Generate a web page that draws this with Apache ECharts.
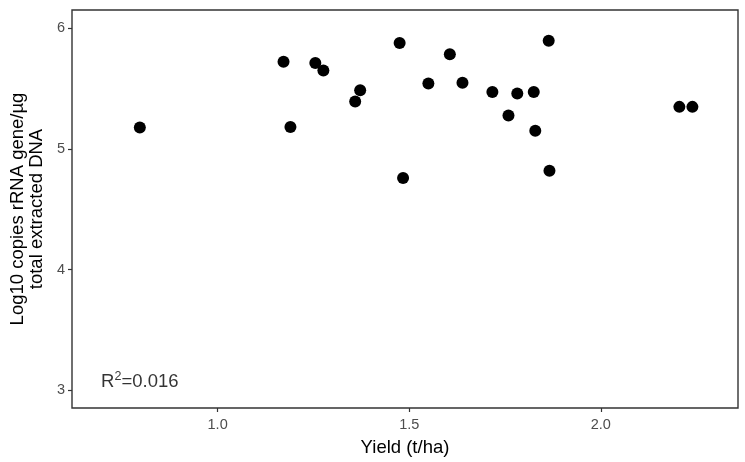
<!DOCTYPE html>
<html>
<head>
<meta charset="utf-8">
<script src="https://cdn.jsdelivr.net/npm/echarts@6/dist/echarts.min.js"></script>
<style>
html,body{margin:0;padding:0;background:#fff;}
#chart{width:745px;height:462px;}
</style>
</head>
<body>
<div id="chart"></div>
<script>
// Yield (t/ha)
const yieldValues = [0.797, 1.172, 1.190, 1.255, 1.276, 1.359, 1.372, 1.475, 1.484, 1.550, 1.606,
                     1.639, 1.717, 1.759, 1.782, 1.825, 1.829, 1.864, 1.866, 2.205, 2.239];
// Log10 copies rRNA gene/µg total extracted DNA
const log10Copies = [5.178, 5.721, 5.181, 5.712, 5.649, 5.392, 5.485, 5.877, 4.759, 5.542, 5.783,
                     5.548, 5.471, 5.277, 5.458, 5.471, 5.150, 5.896, 4.819, 5.348, 5.348];
const xTicks = [1.0, 1.5, 2.0];
const yTicks = [3, 4, 5, 6];
const xTitle = 'Yield (t/ha)';
const yTitle = 'Log10 copies rRNA gene/µg\ntotal extracted DNA';
const annotationPos = [0.797, 3.07];
const r2Value = '0.016';

const points = yieldValues.map((x, i) => [x, log10Copies[i]]);
const FONT = '"Liberation Sans", Arial, sans-serif';

const chart = echarts.init(document.getElementById('chart'), null, {renderer: 'canvas'});
chart.setOption({
  animation: false,
  backgroundColor: '#fff',
  grid: {left: 72, right: 7, top: 10, bottom: 51, show: true, borderColor: '#333', borderWidth: 1.4, backgroundColor: '#fff'},
  xAxis: {
    type: 'value', min: 0.62, max: 2.358,
    name: xTitle, nameLocation: 'middle', nameGap: 30,
    nameTextStyle: {color: '#000', fontSize: 18.5, fontFamily: FONT},
    axisLine: {show: false},
    axisTick: {show: true, length: 4, lineStyle: {color: '#333', width: 1.2}, customValues: xTicks},
    axisLabel: {color: '#4D4D4D', fontSize: 14.5, fontFamily: FONT, margin: 9, customValues: xTicks,
                formatter: v => v.toFixed(1)},
    splitLine: {show: false}
  },
  yAxis: {
    type: 'value', min: 2.855, max: 6.15,
    name: yTitle, nameLocation: 'middle', nameGap: 26, nameRotate: 90,
    nameTextStyle: {color: '#000', fontSize: 18.5, fontFamily: FONT, lineHeight: 19, align: 'center'},
    axisLine: {show: false},
    axisTick: {show: true, length: 4, lineStyle: {color: '#333', width: 1.2}, customValues: yTicks},
    axisLabel: {color: '#4D4D4D', fontSize: 14.5, fontFamily: FONT, margin: 7, customValues: yTicks,
                formatter: v => String(v)},
    splitLine: {show: false}
  },
  series: [
    {
      type: 'scatter', data: points, symbol: 'circle', symbolSize: 12,
      itemStyle: {color: '#000', opacity: 1}, z: 3
    },
    {
      type: 'scatter', data: [annotationPos], symbolSize: 0, silent: true,
      label: {
        show: true, position: 'inside', color: '#000',
        formatter: '{a|R}{s|2}{a|=' + r2Value + '}',
        rich: {
          a: {fontSize: 18.5, color: '#000', fontFamily: FONT},
          s: {fontSize: 12.5, color: '#000', fontFamily: FONT, padding: [0, 0, 10, 0]}
        }
      }
    }
  ]
});
</script>
</body>
</html>
